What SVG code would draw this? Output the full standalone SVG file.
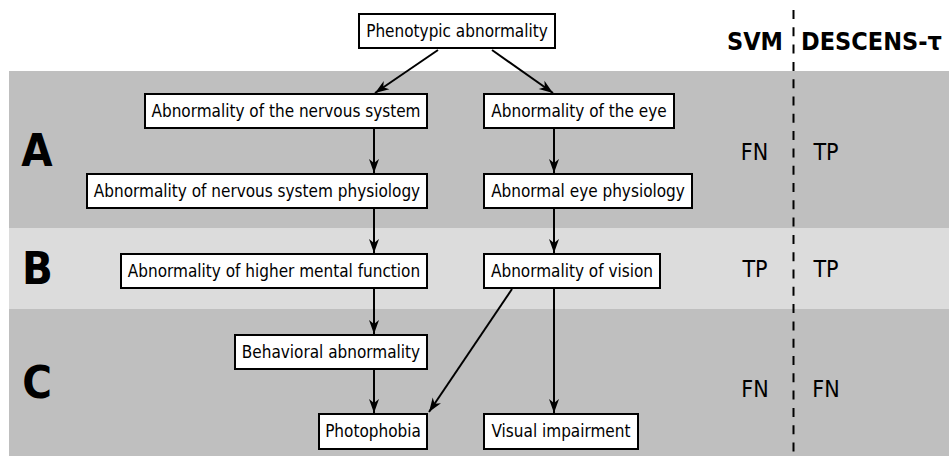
<svg xmlns="http://www.w3.org/2000/svg" width="949" height="457" viewBox="0 0 949 457">
<defs>
<style>
.node rect{fill:#ffffff;stroke:#000000;stroke-width:2}
.node text{font-family:"DejaVu Sans Condensed","DejaVu Sans",sans-serif;font-stretch:condensed;font-size:17px;fill:#000;text-anchor:middle}
.edge{stroke:#000;stroke-width:2;fill:none;marker-end:url(#arr)}
.hdr{font-family:"DejaVu Sans Condensed","DejaVu Sans",sans-serif;font-stretch:condensed;font-weight:bold;font-size:25px;text-anchor:middle;fill:#000}
.val{font-family:"DejaVu Sans Condensed","DejaVu Sans",sans-serif;font-stretch:condensed;font-size:23px;text-anchor:middle;fill:#000}
.lbl{font-family:"DejaVu Sans Condensed","DejaVu Sans",sans-serif;font-stretch:condensed;font-weight:bold;font-size:45px;text-anchor:middle;fill:#000}
</style>
<marker id="arr" markerUnits="userSpaceOnUse" viewBox="-15 -6 16 12" refX="0" refY="0" markerWidth="16" markerHeight="12" orient="auto">
<path d="M0,0 L-14,-5 L-10,0 L-14,5 Z" fill="#000"/>
</marker>
</defs>
<g id="bands">
<rect x="9" y="71" width="940" height="157" fill="#bfbfbf"/>
<rect x="9" y="228" width="940" height="81" fill="#dcdcdc"/>
<rect x="9" y="309" width="940" height="147" fill="#bfbfbf"/>
</g>
<line x1="793.5" y1="10" x2="793.5" y2="457" stroke="#000" stroke-width="2" stroke-dasharray="9,8.3"/>
<g id="headers">
<text class="hdr" x="755" y="49.5">SVM</text>
<text class="hdr" x="871.5" y="49.5">DESCENS-τ</text>
</g>
<g id="labels">
<text class="lbl" x="37" y="165.7">A</text>
<text class="lbl" x="37.5" y="284.3">B</text>
<text class="lbl" x="37" y="398">C</text>
</g>
<g id="values">
<text class="val" x="754.5" y="160">FN</text>
<text class="val" x="826" y="160">TP</text>
<text class="val" x="755" y="277.3">TP</text>
<text class="val" x="826" y="277.3">TP</text>
<text class="val" x="755" y="396.7">FN</text>
<text class="val" x="826" y="396.7">FN</text>
</g>
<g id="connectors">
<line class="edge" x1="438" y1="50" x2="375" y2="93"/>
<line class="edge" x1="492" y1="50" x2="553" y2="93"/>
<line class="edge" x1="374" y1="129" x2="374" y2="173"/>
<line class="edge" x1="554" y1="129" x2="554" y2="173"/>
<line class="edge" x1="374" y1="209" x2="374" y2="253"/>
<line class="edge" x1="554" y1="209" x2="554" y2="253"/>
<line class="edge" x1="374" y1="289" x2="374" y2="334"/>
<line class="edge" x1="374" y1="370" x2="374" y2="413"/>
<line class="edge" x1="512" y1="289" x2="429" y2="412"/>
<line class="edge" x1="554" y1="289" x2="554" y2="413"/>
</g>
<g id="n-phen" class="node"><rect x="359" y="14" width="196" height="34"/><text x="457" y="36.5">Phenotypic abnormality</text></g>
<g id="n-nerv" class="node"><rect x="145" y="94" width="282" height="34"/><text x="286" y="116.5">Abnormality of the nervous system</text></g>
<g id="n-eye" class="node"><rect x="484" y="94" width="190" height="34"/><text x="579" y="116.5">Abnormality of the eye</text></g>
<g id="n-nervphys" class="node"><rect x="87" y="174" width="340" height="34"/><text x="257" y="196.5">Abnormality of nervous system physiology</text></g>
<g id="n-eyephys" class="node"><rect x="484" y="174" width="208" height="34"/><text x="588" y="196.5">Abnormal eye physiology</text></g>
<g id="n-higher" class="node"><rect x="121" y="254" width="306" height="34"/><text x="274" y="276.5">Abnormality of higher mental function</text></g>
<g id="n-vision" class="node"><rect x="484" y="254" width="176" height="34"/><text x="572" y="276.5">Abnormality of vision</text></g>
<g id="n-behav" class="node"><rect x="235" y="335" width="192" height="34"/><text x="331" y="357.5">Behavioral abnormality</text></g>
<g id="n-photo" class="node"><rect x="319" y="414" width="108" height="35"/><text x="373" y="437">Photophobia</text></g>
<g id="n-visimp" class="node"><rect x="484" y="414" width="154" height="35"/><text x="561" y="437">Visual impairment</text></g>
</svg>
